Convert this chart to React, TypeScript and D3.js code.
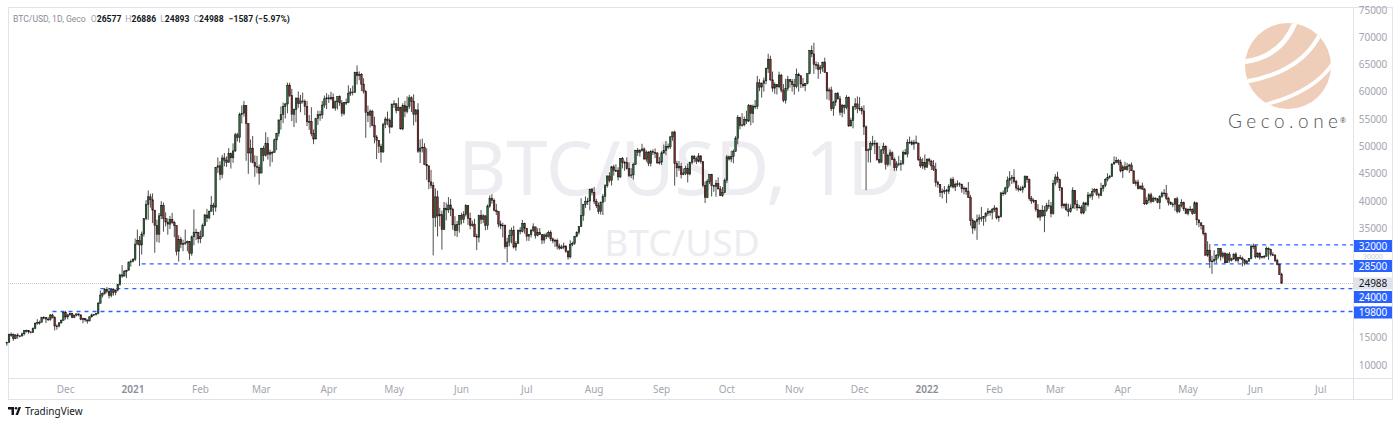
import React, { useEffect, useRef } from 'react';
import * as d3 from 'd3';

// Daily BTC/USD candles, values in thousands of USD: [high, low, close].
// Open of each day = previous close (24/7 market).
type HLC = [number, number, number];

const firstOpen = 14.03;
const firstDay = new Date(2020, 10, 4);

const nov2020: HLC[] = [
    [14.24, 13.53, 14.16], [15.75, 14.09, 15.59], [15.96, 15.17, 15.58], [15.77, 14.42, 14.83],
    [15.64, 14.72, 15.48], [15.83, 14.81, 15.33], [15.46, 15.08, 15.30], [15.95, 15.28, 15.70], [16.32, 15.42, 16.28],
    [16.48, 15.95, 16.33], [16.33, 15.72, 16.07], [16.14, 15.79, 15.96], [16.88, 15.87, 16.72], [17.79, 16.56, 17.65],
    [18.39, 17.38, 17.80], [18.12, 17.38, 17.82], [18.81, 17.76, 18.68], [18.95, 18.36, 18.71], [18.75, 17.67, 18.42],
    [18.78, 18.05, 18.36], [19.35, 18.09, 19.15], [19.39, 18.52, 18.72], [18.92, 16.33, 17.15], [17.44, 16.46, 17.14],
    [17.85, 16.89, 17.72], [18.35, 17.56, 18.18], [19.75, 18.15, 19.63],
];
const dec2020: HLC[] = [
    [19.92, 18.33, 18.80], [19.31, 18.35, 19.20], [19.57, 18.93, 19.45], [19.51, 18.57, 18.70], [19.17, 18.58, 19.15],
    [19.41, 18.92, 19.36], [19.40, 18.91, 19.17], [19.29, 18.20, 18.32], [18.64, 17.65, 18.55], [18.56, 17.91, 18.26],
    [18.27, 17.57, 18.06], [18.92, 18.02, 18.80], [19.41, 18.73, 19.17], [19.33, 19.00, 19.27], [19.53, 19.05, 19.44],
    [21.56, 19.30, 21.31], [23.65, 21.23, 22.80], [23.28, 22.35, 23.14], [24.09, 22.86, 23.87], [24.27, 23.11, 23.48],
    [24.10, 22.20, 22.75], [23.84, 22.38, 23.82], [24.08, 22.70, 23.24], [23.79, 22.77, 23.73], [24.75, 23.45, 24.71],
    [26.72, 24.52, 26.49], [28.29, 25.96, 26.28], [27.39, 26.23, 27.08], [27.42, 25.92, 27.36], [28.94, 27.36, 28.84],
    [29.30, 28.00, 29.00],
];
const jan2021: HLC[] = [
    [29.60, 28.80, 29.37], [33.16, 29.03, 32.13], [34.79, 32.07, 32.78], [33.60, 28.13, 31.97], [34.44, 30.22, 33.99],
    [36.88, 33.51, 36.82], [40.18, 36.49, 39.37], [41.95, 36.57, 40.80], [41.36, 38.81, 40.25], [41.42, 35.98, 38.36],
    [38.33, 30.55, 35.57], [36.60, 32.53, 33.92], [37.85, 32.38, 37.32], [40.00, 36.70, 39.19], [39.75, 34.41, 36.83],
    [37.95, 35.36, 36.18], [36.85, 33.85, 35.79], [37.30, 34.91, 36.63], [37.85, 35.84, 36.07], [36.40, 33.40, 35.55],
    [35.59, 30.07, 30.83], [33.78, 28.95, 33.01], [33.46, 31.39, 32.10], [32.94, 30.84, 32.29], [34.80, 31.95, 32.37],
    [32.79, 30.82, 32.57], [32.56, 29.24, 30.43], [33.71, 30.00, 33.47], [38.50, 31.92, 34.32], [34.93, 32.86, 34.32],
    [34.32, 32.30, 33.11],
];
const feb2021: HLC[] = [
    [34.64, 32.30, 33.54], [35.90, 33.42, 35.51], [37.66, 35.39, 37.47], [38.59, 36.16, 36.93], [38.29, 36.66, 38.14],
    [40.96, 38.12, 39.27], [39.70, 37.44, 38.90], [46.20, 38.08, 46.20], [48.00, 45.17, 46.48], [47.31, 43.83, 44.92],
    [48.46, 44.19, 47.91], [48.82, 46.38, 47.50], [48.18, 46.26, 47.11], [49.70, 47.07, 48.72], [48.90, 45.97, 47.94],
    [50.59, 47.02, 49.20], [52.53, 48.99, 52.15], [52.50, 50.93, 51.68], [56.21, 50.71, 55.89], [57.53, 54.23, 56.10],
    [58.35, 55.48, 57.54], [57.54, 47.40, 54.21], [54.20, 45.00, 48.82], [51.30, 47.07, 49.70], [51.94, 46.93, 47.09],
    [48.38, 44.45, 46.34], [48.31, 45.08, 46.19], [46.70, 43.02, 45.14],
];
const mar2021: HLC[] = [
    [49.78, 45.12, 49.63], [50.13, 47.28, 48.38], [52.62, 48.15, 50.54], [51.72, 47.61, 48.56], [49.42, 46.35, 48.93],
    [49.20, 47.13, 48.91], [51.46, 48.95, 51.21], [52.39, 49.35, 52.38], [54.90, 51.82, 54.88], [57.35, 53.08, 55.85],
    [58.07, 54.28, 57.33], [58.00, 55.13, 57.80], [61.70, 56.10, 61.24], [61.68, 59.10, 59.30], [60.57, 54.65, 55.90],
    [56.95, 53.56, 56.80], [58.96, 54.32, 58.87], [60.08, 57.08, 57.86], [59.45, 56.27, 58.35], [59.88, 57.89, 58.31],
    [58.62, 55.75, 57.35], [58.38, 53.75, 54.53], [55.78, 53.06, 54.54], [57.20, 51.87, 52.36], [53.15, 50.43, 51.37],
    [55.07, 51.37, 55.09], [56.56, 53.97, 55.85], [56.54, 54.72, 55.80], [58.34, 55.08, 57.60], [59.33, 57.08, 58.73],
    [59.78, 56.87, 58.92],
];
const apr2021: HLC[] = [
    [59.49, 57.99, 58.73], [60.03, 58.47, 59.00], [59.73, 56.98, 57.05], [58.42, 56.57, 58.20], [59.15, 56.79, 59.13],
    [59.37, 57.43, 57.99], [58.50, 55.52, 56.07], [58.14, 55.74, 58.09], [58.79, 57.60, 58.09], [61.22, 57.94, 59.77],
    [60.70, 59.27, 60.00], [61.16, 59.36, 59.86], [63.70, 59.86, 63.55], [64.86, 61.36, 62.97], [63.76, 62.14, 63.23],
    [63.45, 60.17, 61.43], [62.50, 59.70, 60.06], [60.38, 51.60, 56.25], [57.50, 54.50, 55.72], [56.80, 53.50, 56.47],
    [56.73, 53.70, 53.91], [55.46, 50.58, 51.76], [52.10, 47.70, 51.09], [51.20, 48.80, 50.05], [50.50, 47.05, 49.00],
    [54.35, 48.86, 54.02], [55.43, 53.37, 55.03], [56.41, 53.90, 54.82], [55.19, 52.40, 53.56], [57.91, 53.48, 57.75],
];
const may2021: HLC[] = [
    [58.47, 57.07, 57.83], [57.93, 56.08, 56.63], [58.96, 56.48, 57.21], [57.21, 53.11, 53.24], [57.92, 52.97, 57.47],
    [58.36, 55.38, 56.43], [59.19, 56.06, 57.38], [59.46, 56.88, 58.93], [59.21, 56.32, 58.28], [59.55, 53.87, 55.86],
    [56.87, 54.47, 56.70], [57.94, 48.82, 49.15], [51.30, 46.98, 49.72], [51.45, 48.91, 49.88], [50.60, 46.60, 46.76],
    [49.67, 43.90, 46.46], [46.51, 42.20, 43.54], [45.73, 42.34, 42.91], [43.48, 30.07, 37.00], [42.34, 35.28, 40.78],
    [41.94, 33.53, 37.30], [38.78, 35.38, 37.53], [38.25, 31.11, 34.77], [39.85, 34.77, 38.71], [39.73, 36.47, 38.40],
    [40.74, 37.84, 39.29], [40.41, 37.25, 38.53], [38.81, 34.76, 35.66], [37.25, 33.63, 34.61], [36.37, 33.43, 35.68],
    [37.47, 34.23, 37.33],
];
const jun2021: HLC[] = [
    [37.87, 35.74, 36.68], [38.17, 35.98, 37.57], [39.43, 37.20, 39.19], [39.24, 35.66, 36.86], [37.89, 34.85, 35.52],
    [36.43, 35.30, 35.80], [36.77, 33.41, 33.56], [34.02, 31.03, 33.40], [37.53, 32.43, 37.35], [38.37, 35.83, 36.68],
    [37.62, 35.97, 37.31], [37.41, 34.66, 35.55], [39.39, 34.76, 39.10], [41.06, 38.79, 40.52], [41.30, 39.53, 40.14],
    [40.50, 38.12, 38.35], [39.50, 37.45, 38.09], [38.17, 35.20, 35.82], [36.42, 34.87, 35.48], [36.05, 33.36, 35.60],
    [35.70, 31.29, 31.68], [33.30, 28.80, 32.51], [34.80, 31.74, 33.68], [35.17, 32.25, 34.66], [35.49, 31.31, 31.59],
    [32.70, 30.92, 32.28], [34.73, 32.12, 34.70], [35.25, 33.93, 34.49], [36.56, 34.26, 35.91], [36.06, 34.06, 35.04],
];
const jul2021: HLC[] = [
    [35.04, 32.74, 33.57], [33.99, 32.71, 33.90], [34.93, 33.34, 34.66], [35.94, 34.37, 35.29], [35.30, 33.15, 33.72],
    [35.05, 33.55, 34.22], [35.07, 33.84, 33.86], [33.90, 32.13, 32.88], [34.07, 32.26, 33.82], [34.23, 33.05, 33.52],
    [34.60, 33.34, 34.26], [34.66, 32.68, 33.09], [33.33, 32.29, 32.73], [33.10, 31.62, 32.82], [33.17, 31.17, 31.78],
    [32.23, 31.09, 31.42], [31.99, 31.22, 31.53], [32.41, 31.18, 31.80], [31.85, 30.53, 30.82], [31.04, 29.28, 29.79],
    [32.83, 29.51, 32.11], [32.59, 31.74, 32.29], [33.62, 32.00, 33.58], [34.47, 33.38, 34.29], [35.39, 33.88, 35.35],
    [40.55, 35.26, 37.34], [39.50, 36.40, 39.41], [40.88, 38.77, 39.99], [40.61, 39.31, 40.02], [42.24, 38.33, 42.21],
    [42.41, 41.06, 41.63],
];
const aug2021: HLC[] = [
    [42.60, 39.47, 39.97], [40.42, 38.73, 39.20], [39.77, 37.67, 38.15], [39.95, 37.55, 39.75], [41.33, 37.46, 40.87],
    [43.12, 39.88, 42.82], [44.70, 42.48, 44.61], [45.31, 43.40, 43.82], [46.45, 42.85, 46.29], [46.69, 44.68, 45.60],
    [46.74, 45.35, 45.59], [46.20, 43.81, 44.43], [47.88, 44.26, 47.79], [48.09, 46.00, 47.10], [47.39, 45.55, 47.05],
    [48.03, 45.77, 45.94], [47.12, 44.39, 44.70], [46.04, 44.24, 44.80], [47.04, 43.95, 46.72], [49.37, 46.66, 49.34],
    [49.73, 48.28, 48.91], [49.50, 48.15, 49.32], [50.50, 49.06, 49.55], [49.85, 47.62, 47.71], [49.28, 47.21, 48.99],
    [49.14, 46.42, 46.94], [49.35, 46.37, 49.06], [49.48, 48.43, 48.90], [49.65, 47.87, 48.81], [49.00, 46.88, 46.99],
    [48.10, 46.70, 47.15],
];
const sep2021: HLC[] = [
    [49.15, 46.60, 48.85], [50.36, 48.65, 49.28], [51.03, 48.41, 50.03], [50.54, 49.50, 49.94], [51.86, 49.54, 51.77],
    [52.75, 51.06, 52.66], [52.92, 42.84, 46.86], [47.38, 44.44, 46.08], [47.35, 45.54, 46.40], [47.03, 44.16, 44.85],
    [45.99, 44.75, 45.16], [46.46, 44.77, 46.03], [46.88, 43.43, 44.96], [47.25, 44.74, 47.11], [48.45, 46.74, 48.14],
    [48.46, 47.07, 47.75], [48.15, 46.78, 47.31], [48.81, 47.08, 48.29], [48.36, 46.87, 47.24], [47.31, 42.53, 42.84],
    [43.62, 39.66, 40.69], [44.00, 40.54, 43.57], [44.97, 43.14, 44.90], [45.00, 40.85, 42.84], [42.99, 41.71, 42.72],
    [43.88, 40.80, 43.21], [44.34, 42.16, 42.24], [42.78, 40.93, 41.03], [42.59, 40.77, 41.56], [44.15, 41.45, 43.79],
];
const oct2021: HLC[] = [
    [48.44, 43.30, 48.12], [48.35, 47.43, 47.71], [49.27, 47.13, 48.20], [49.50, 46.93, 49.11], [51.89, 49.07, 51.51],
    [55.75, 50.40, 55.36], [55.33, 53.15, 53.81], [56.10, 53.65, 53.97], [55.46, 53.70, 54.97], [56.56, 54.12, 54.66],
    [57.79, 54.47, 57.47], [57.67, 53.88, 56.04], [57.70, 54.32, 57.40], [58.53, 56.85, 57.36], [62.93, 56.85, 61.67],
    [62.34, 60.15, 60.88], [61.75, 58.96, 61.53], [62.62, 60.05, 62.04], [64.45, 61.38, 64.26], [67.00, 63.48, 65.99],
    [66.64, 62.02, 62.21], [63.72, 60.03, 60.69], [61.74, 59.66, 61.39], [61.47, 59.53, 60.93], [63.71, 60.65, 63.08],
    [63.29, 59.88, 60.33], [61.44, 58.11, 58.46], [62.40, 57.86, 60.59], [62.95, 60.17, 62.23], [62.29, 60.80, 61.89],
    [62.37, 60.05, 61.32],
];
const nov2021: HLC[] = [
    [62.40, 59.50, 61.00], [64.27, 60.66, 63.23], [63.52, 60.06, 62.94], [63.12, 60.70, 61.45], [62.55, 60.77, 61.13],
    [61.61, 60.14, 61.53], [63.36, 61.39, 63.33], [67.67, 63.23, 67.57], [68.49, 66.38, 66.97], [69.00, 63.30, 64.99],
    [65.60, 64.14, 64.95], [65.45, 62.41, 64.16], [64.91, 63.31, 64.47], [65.49, 63.68, 65.47], [66.28, 63.50, 63.56],
    [63.56, 58.62, 60.16], [60.80, 58.45, 60.37], [60.98, 56.50, 56.94], [58.36, 55.64, 58.12], [59.85, 57.47, 59.70],
    [60.00, 58.60, 58.73], [59.28, 55.71, 56.29], [57.80, 55.39, 57.57], [57.68, 55.99, 57.18], [59.40, 56.82, 58.99],
    [59.15, 53.57, 53.79], [55.27, 53.65, 54.78], [57.43, 53.33, 57.27], [58.86, 56.71, 57.81], [59.18, 56.12, 57.01],
];
const dec2021: HLC[] = [
    [59.04, 56.50, 56.99], [57.40, 55.85, 56.51], [57.55, 52.12, 53.60], [53.87, 42.00, 49.23], [49.70, 47.10, 49.40],
    [50.95, 47.05, 50.58], [51.95, 50.07, 50.57], [51.18, 48.61, 50.58], [50.79, 47.39, 47.59], [50.10, 46.89, 47.14],
    [49.48, 46.96, 49.39], [50.70, 48.65, 50.05], [50.20, 45.78, 46.70], [48.68, 46.31, 48.34], [49.43, 46.55, 48.86],
    [49.10, 47.52, 47.63], [47.98, 45.52, 46.13], [47.30, 45.58, 46.83], [48.30, 46.42, 46.68], [47.52, 45.56, 46.91],
    [49.30, 46.64, 48.94], [49.55, 48.45, 48.63], [51.35, 48.02, 50.78], [51.82, 50.45, 50.82], [51.15, 50.21, 50.43],
    [51.24, 49.42, 50.80], [52.00, 50.46, 50.64], [50.67, 47.33, 47.59], [48.12, 46.10, 46.46], [47.88, 45.90, 47.12],
    [48.55, 45.68, 46.21],
];
const jan2022: HLC[] = [
    [47.82, 46.21, 47.69], [47.95, 46.65, 47.34], [47.56, 45.70, 46.46], [47.51, 45.52, 45.83], [47.04, 42.65, 43.43],
    [43.75, 42.45, 43.08], [43.13, 40.75, 41.56], [42.30, 40.50, 41.73], [42.75, 41.28, 41.91], [42.25, 39.65, 41.82],
    [43.10, 41.30, 42.74], [44.32, 42.45, 43.95], [44.45, 42.33, 42.59], [43.40, 41.85, 43.10], [43.80, 42.65, 43.18],
    [43.45, 42.60, 43.11], [43.18, 41.55, 42.25], [42.69, 41.25, 42.37], [42.55, 41.16, 41.74], [43.50, 40.60, 40.68],
    [41.10, 35.50, 36.46], [36.83, 34.02, 35.07], [36.50, 34.60, 36.28], [37.55, 32.92, 36.65], [37.55, 35.70, 36.95],
    [38.92, 36.25, 36.81], [37.23, 35.50, 37.16], [38.00, 36.20, 37.72], [38.72, 37.30, 38.17], [38.35, 37.35, 37.92],
    [38.75, 36.65, 38.48],
];
const feb2022: HLC[] = [
    [39.26, 38.02, 38.74], [38.85, 36.65, 36.95], [37.40, 36.25, 37.15], [41.70, 37.00, 41.50], [41.95, 40.95, 41.41],
    [42.65, 41.15, 42.41], [44.50, 41.65, 43.84], [45.50, 42.70, 44.12], [44.80, 43.15, 44.34], [45.85, 43.25, 43.57],
    [43.90, 41.95, 42.41], [42.95, 41.75, 42.20], [42.72, 41.85, 42.09], [42.85, 41.55, 42.55], [44.70, 42.45, 44.58],
    [44.55, 43.35, 43.96], [44.15, 40.10, 40.55], [40.95, 39.50, 40.03], [40.45, 39.65, 40.12], [40.15, 38.10, 38.43],
    [39.48, 36.85, 37.08], [38.45, 36.42, 38.29], [39.25, 37.10, 37.30], [39.10, 34.32, 38.33], [39.70, 38.05, 39.21],
    [40.25, 38.60, 39.12], [39.85, 37.05, 37.72], [43.90, 37.50, 43.19],
];
const mar2022: HLC[] = [
    [44.95, 42.85, 44.42], [45.40, 43.40, 43.92], [44.10, 41.85, 42.45], [42.55, 38.65, 39.15], [39.65, 38.65, 39.40],
    [39.70, 38.15, 38.42], [39.55, 37.20, 38.06], [39.40, 37.90, 38.74], [42.55, 38.70, 41.98], [42.05, 38.55, 39.44],
    [40.20, 38.25, 38.79], [39.35, 38.70, 38.90], [39.25, 37.60, 37.85], [39.90, 37.60, 39.67], [39.85, 38.15, 39.34],
    [41.70, 38.95, 41.14], [41.45, 40.55, 40.95], [42.35, 40.25, 41.80], [42.35, 41.55, 42.19], [42.30, 40.95, 41.25],
    [41.55, 40.50, 41.08], [43.35, 40.90, 42.36], [43.00, 41.75, 42.89], [44.20, 42.55, 43.96], [45.10, 43.60, 44.35],
    [44.80, 44.10, 44.50], [46.90, 44.45, 46.82], [48.20, 46.65, 47.13], [48.10, 46.95, 47.46], [47.70, 46.60, 47.07],
    [47.60, 45.25, 45.54],
];
const apr2022: HLC[] = [
    [46.65, 44.25, 46.28], [47.20, 45.70, 45.81], [47.00, 45.55, 46.41], [46.85, 45.15, 46.62], [47.10, 45.50, 45.56],
    [45.55, 43.15, 43.21], [43.90, 42.75, 43.50], [43.95, 42.15, 42.29], [42.80, 42.15, 42.78], [43.40, 42.05, 42.21],
    [42.40, 39.30, 39.52], [40.70, 39.30, 40.13], [41.50, 39.60, 41.17], [41.55, 39.60, 39.94], [40.85, 39.80, 40.55],
    [40.70, 40.05, 40.42], [40.60, 39.60, 39.72], [41.10, 38.55, 40.83], [41.75, 40.60, 41.50], [42.20, 40.85, 41.37],
    [42.95, 40.15, 40.53], [40.80, 39.20, 39.74], [39.95, 39.30, 39.47], [39.80, 38.90, 39.45], [40.60, 38.20, 40.43],
    [40.80, 37.75, 38.12], [39.45, 37.85, 39.24], [40.35, 38.85, 39.74], [39.90, 38.20, 38.60], [38.80, 37.60, 37.71],
];
const may2022: HLC[] = [
    [38.70, 37.40, 38.47], [39.10, 38.05, 38.53], [38.65, 37.50, 37.75], [40.00, 37.70, 39.70], [39.80, 35.60, 36.58],
    [36.60, 35.25, 36.04], [36.10, 34.80, 35.50], [35.50, 33.75, 34.06], [34.25, 30.05, 30.10], [32.65, 29.80, 31.02],
    [32.15, 27.75, 28.94], [30.00, 26.70, 29.05], [31.00, 28.75, 29.28], [30.30, 28.65, 30.10], [31.40, 29.50, 31.31],
    [31.30, 29.10, 29.86], [30.75, 29.50, 30.42], [30.65, 28.65, 28.72], [30.50, 28.70, 30.31], [30.70, 28.75, 29.20],
    [29.65, 28.95, 29.43], [30.40, 29.25, 30.32], [30.65, 28.90, 29.10], [29.80, 28.70, 29.65], [30.15, 29.35, 29.56],
    [29.85, 28.05, 29.27], [29.35, 28.25, 28.63], [29.20, 28.55, 29.03], [29.55, 28.85, 29.47], [32.10, 29.35, 31.73],
    [32.25, 31.25, 31.79],
];
// June 2022 up to Jun 12; Jun 13 is the live candle below
const jun2022: HLC[] = [
    [31.95, 29.50, 29.80], [30.65, 29.60, 30.47], [30.65, 29.30, 29.70], [29.95, 29.50, 29.86], [30.15, 29.50, 29.91],
    [31.70, 29.90, 31.37], [31.55, 29.25, 31.13], [31.30, 29.90, 30.21], [30.65, 29.95, 30.11], [30.30, 28.85, 29.09],
    [29.45, 28.25, 28.42], [28.55, 26.55, 26.575],
];

// live candle shown in the legend (USD)
const liveOHLC = { o: 26577, h: 26886, l: 24893, c: 24988 };

const months = [nov2020, dec2020, jan2021, feb2021, mar2021, apr2021, may2021, jun2021, jul2021, aug2021, sep2021,
    oct2021, nov2021, dec2021, jan2022, feb2022, mar2022, apr2022, may2022, jun2022];

const priceTicks = [10000, 15000, 20000, 25000, 30000, 35000, 40000, 45000, 50000, 55000, 60000, 65000, 70000, 75000];

// horizontal levels drawn on the chart: value and the day the line starts
const levels = [
    { value: 32000, from: new Date(2022, 4, 13) },
    { value: 28500, from: new Date(2021, 0, 5) },
    { value: 24000, from: new Date(2020, 11, 17) },
    { value: 19800, from: new Date(2020, 10, 25) },
];

const W = 1400;
const H = 426;

interface Candle { date: Date; o: number; h: number; l: number; c: number; }

const App: React.FC = () => {
    const svgRef = useRef<SVGSVGElement>(null);

    useEffect(() => {
        if (!svgRef.current) return;
        const svg = d3.select(svgRef.current);
        svg.selectAll('*').remove();

        const font = "'Noto Sans', Roboto, sans-serif";
        const frame = { left: 8, top: 7, right: 1392, bottom: 399, axisX: 1353, axisY: 378 };

        // build candles
        const candles: Candle[] = [];
        let prev = firstOpen;
        let day = new Date(firstDay);
        months.flat().forEach(([h, l, c]) => {
            const o = prev;
            candles.push({ date: new Date(day), o: o * 1000, h: Math.max(h, o, c) * 1000, l: Math.min(l, o, c) * 1000, c: c * 1000 });
            prev = c;
            day = d3.timeDay.offset(day, 1);
        });
        const prevClose = prev * 1000;
        candles.push({ date: new Date(day), ...liveOHLC });
        const last = candles[candles.length - 1];

        const x = d3.scaleTime()
            .domain([new Date(2021, 0, 1), new Date(2022, 0, 1)])
            .range([133, 927]);
        const y = d3.scaleLinear().domain([10000, 75000]).range([365, 10]);

        // frame
        svg.append('rect').attr('width', W).attr('height', H).attr('fill', '#ffffff');
        svg.append('rect')
            .attr('x', frame.left + 0.5).attr('y', frame.top + 0.5)
            .attr('width', frame.right - frame.left).attr('height', frame.bottom - frame.top)
            .attr('fill', 'none').attr('stroke', '#e0e3eb');
        svg.append('line')
            .attr('x1', frame.axisX + 0.5).attr('x2', frame.axisX + 0.5)
            .attr('y1', frame.top).attr('y2', frame.bottom)
            .attr('stroke', '#e0e3eb');
        svg.append('line')
            .attr('x1', frame.left).attr('x2', frame.right)
            .attr('y1', frame.axisY + 0.5).attr('y2', frame.axisY + 0.5)
            .attr('stroke', '#e0e3eb');

        // watermark
        svg.append('text')
            .attr('x', 680).attr('y', 195)
            .attr('text-anchor', 'middle')
            .attr('font-family', font).attr('font-size', 74)
            .attr('fill', '#ececf1')
            .text('BTC/USD, 1D');
        svg.append('text')
            .attr('x', 682).attr('y', 256)
            .attr('text-anchor', 'middle')
            .attr('font-family', font).attr('font-size', 37)
            .attr('fill', '#ececf1')
            .text('BTC/USD');

        // logo
        const logo = svg.append('g').attr('transform', 'translate(1288,66)');
        svg.append('defs').append('clipPath').attr('id', 'logo-clip')
            .append('circle').attr('r', 43);
        logo.append('circle').attr('r', 43).attr('fill', '#eecdb9');
        const stripes = logo.append('g').attr('clip-path', 'url(#logo-clip)');
        ['M -46 -4 Q -6 -8 8 -46', 'M -44 16 Q 16 6 34 -36', 'M -28 40 Q 30 26 48 -8']
            .forEach((p, i) => {
                stripes.append('path').attr('d', p)
                    .attr('fill', 'none').attr('stroke', '#ffffff')
                    .attr('stroke-width', 5 - i * 0.6);
            });
        svg.append('text')
            .attr('x', 1228).attr('y', 128)
            .attr('font-family', 'Lato, sans-serif').attr('font-weight', 300)
            .attr('font-size', 19)
            .attr('textLength', 110).attr('lengthAdjust', 'spacing')
            .attr('fill', '#555555')
            .text('Geco.one');
        svg.append('text')
            .attr('x', 1340).attr('y', 123)
            .attr('font-family', font).attr('font-size', 7)
            .attr('fill', '#555555')
            .text('®');

        // current price line
        svg.append('line')
            .attr('x1', frame.left).attr('x2', frame.axisX)
            .attr('y1', Math.round(y(last.c)) + 0.5).attr('y2', Math.round(y(last.c)) + 0.5)
            .attr('stroke', '#c8cad1').attr('stroke-dasharray', '1,1');

        // levels
        const lg = svg.append('g').attr('class', 'levels');
        levels.forEach(d => {
            const ly = y(d.value);
            lg.append('line')
                .attr('x1', x(d.from)).attr('x2', frame.axisX)
                .attr('y1', ly).attr('y2', ly)
                .style('stroke', '#2962ff').style('stroke-width', '1.3px')
                .style('stroke-dasharray', '4 4');
        });

        // candles
        const bodyW = 1.6;
        const cg = svg.append('g').attr('class', 'candles');
        cg.selectAll('line.wick')
            .data(candles).enter().append('line')
            .attr('class', 'wick')
            .attr('x1', d => x(d.date)).attr('x2', d => x(d.date))
            .attr('y1', d => y(d.h)).attr('y2', d => y(d.l))
            .attr('stroke', '#3a3a3a').attr('stroke-width', 0.9);
        cg.selectAll('rect.body')
            .data(candles).enter().append('rect')
            .attr('class', 'body')
            .attr('x', d => x(d.date) - bodyW / 2)
            .attr('y', d => y(Math.max(d.o, d.c)))
            .attr('width', bodyW)
            .attr('height', d => Math.max(0.8, Math.abs(y(d.o) - y(d.c))))
            .attr('fill', d => (d.c >= d.o ? '#2d6b3c' : '#8a2c2c'))
            .attr('stroke', '#111111').attr('stroke-width', 0.5);

        // price axis labels
        svg.append('g').selectAll('text')
            .data(priceTicks).enter().append('text')
            .attr('x', 1373).attr('y', d => y(d) + 3.5)
            .attr('text-anchor', 'middle')
            .attr('font-family', font).attr('font-size', d => (d === 30000 ? 7 : 10))
            .attr('fill', d => (d === 30000 ? '#c9cbd1' : '#a3a6af'))
            .text(d => String(d));

        // level labels
        const boxes = [
            { value: 32000, cy: 246, fill: '#2962ff', color: '#ffffff' },
            { value: 28500, cy: 266, fill: '#2962ff', color: '#ffffff' },
            { value: last.c, cy: 283.5, fill: '#e0e3eb', color: '#131722' },
            { value: 24000, cy: 297, fill: '#2962ff', color: '#ffffff' },
            { value: 19800, cy: 312.5, fill: '#2962ff', color: '#ffffff' },
        ];
        const bg = svg.append('g');
        boxes.forEach(b => {
            bg.append('rect')
                .attr('x', frame.axisX + 1).attr('y', b.cy - 6)
                .attr('width', frame.right - frame.axisX - 1).attr('height', 12)
                .attr('fill', b.fill);
            bg.append('text')
                .attr('x', 1373).attr('y', b.cy + 3.6)
                .attr('text-anchor', 'middle')
                .attr('font-family', font).attr('font-size', 10)
                .attr('fill', b.color)
                .text(String(b.value));
        });

        // time axis labels
        const monthTicks = d3.timeMonth.range(new Date(2020, 11, 1), new Date(2022, 6, 2));
        svg.append('g').selectAll('text')
            .data(monthTicks).enter().append('text')
            .attr('x', d => x(d)).attr('y', 393)
            .attr('text-anchor', 'middle')
            .attr('font-family', font).attr('font-size', 10)
            .attr('font-weight', d => (d.getMonth() === 0 ? 600 : 400))
            .attr('fill', d => (d.getMonth() === 0 ? '#8a8d96' : '#a3a6af'))
            .text(d => (d.getMonth() === 0 ? d3.timeFormat('%Y')(d) : d3.timeFormat('%b')(d)));

        // legend
        const change = last.c - prevClose;
        const legend = svg.append('text')
            .attr('x', 13).attr('y', 22)
            .attr('font-family', 'Roboto, sans-serif').attr('font-size', 8.6);
        legend.append('tspan').attr('fill', '#8a8d96').text('BTC/USD, 1D, Geco');
        const fmt = d3.format('.0f');
        [['O', last.o], ['H', last.h], ['L', last.l], ['C', last.c]].forEach(([k, v], i) => {
            legend.append('tspan').attr('dx', i === 0 ? 5 : 4).attr('fill', '#a3a6af').text(k as string);
            legend.append('tspan').attr('fill', '#131722').attr('font-weight', 700).text(fmt(v as number));
        });
        legend.append('tspan').attr('dx', 5).attr('fill', '#131722').attr('font-weight', 700)
            .text(`\u2212${fmt(Math.abs(change))} (\u2212${(Math.abs(change) / prevClose * 100).toFixed(2)}%)`);

        // TradingView mark
        const tv = svg.append('g').attr('transform', 'translate(8,407)');
        tv.append('path').attr('d', 'M0 0 H6 V8 H3.5 V2.5 H0 Z').attr('fill', '#131722');
        tv.append('circle').attr('cx', 8).attr('cy', 1.3).attr('r', 1.3).attr('fill', '#131722');
        tv.append('path').attr('d', 'M10.5 0 H13 L10 8 H7.5 Z').attr('fill', '#131722');
        svg.append('text')
            .attr('x', 25).attr('y', 415)
            .attr('font-family', font).attr('font-size', 10)
            .attr('fill', '#131722')
            .text('TradingView');
    }, []);

    return <svg ref={svgRef} width={W} height={H} style={{ position: 'absolute', left: 0, top: 0 }} />;
};

export default App;
